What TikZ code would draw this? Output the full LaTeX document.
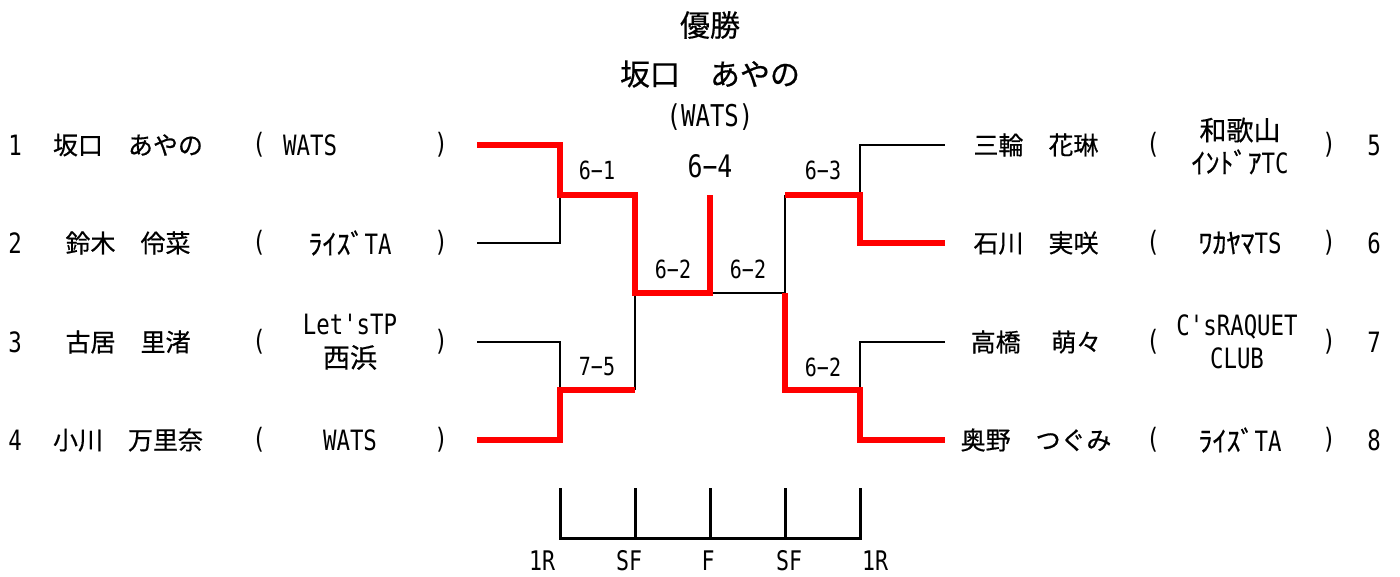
\documentclass[tikz,border=0pt]{standalone}
\usepackage{fontspec}
\newfontfamily\jp[FakeBold=0.5]{Noto Sans CJK JP}
\newfontfamily\mono[FakeStretch=0.8]{DejaVu Sans Mono}
\definecolor{winred}{RGB}{255,0,0}
\tikzset{
  blk/.style={draw=black,line width=2.6pt},
  rd/.style={draw=winred,line width=6pt,line join=miter},
  nm/.style={inner sep=0pt,font=\jp\fontsize{25}{30}\selectfont},
  num/.style={inner sep=0pt,font=\mono\fontsize{28}{33}\selectfont},
  tm/.style={inner sep=0pt,align=center,font=\mono\fontsize{28}{33}\selectfont},
  pr/.style={inner sep=0pt,font=\mono\fontsize{28}{33}\selectfont},
  sc/.style={inner sep=0pt,font=\mono\fontsize{25}{30}\selectfont},
  bigsc/.style={inner sep=0pt,font=\mono\fontsize{31}{36}\selectfont},
  ttl/.style={inner sep=0pt,font=\jp\fontsize{30}{34}\selectfont},
  ttlteam/.style={inner sep=0pt,font=\mono\fontsize{30}{34}\selectfont},
  rnd/.style={inner sep=0pt,font=\mono\fontsize{27}{32}\selectfont},
}
\newcommand\kj[1]{{\jp\fontsize{27}{33}\selectfont #1}}
\newcommand\hk[1]{{\jp #1}}
\begin{document}
\begin{tikzpicture}[x=1pt,y=-1pt]
\useasboundingbox (0,0) rectangle (1400,576);
% ---- bracket coordinates
\coordinate (L1) at (477,145);
\coordinate (L2) at (477,243);
\coordinate (L3) at (477,342);
\coordinate (L4) at (477,440);
\coordinate (R5) at (945,145);
\coordinate (R6) at (945,243);
\coordinate (R7) at (945,342);
\coordinate (R8) at (945,440);
\coordinate (a1) at (560,145);
\coordinate (a2) at (560,243);
\coordinate (a12) at (560,195);
\coordinate (a3) at (560,342);
\coordinate (a4) at (560,440);
\coordinate (a34) at (560,390);
\coordinate (b12) at (635,195);
\coordinate (b34) at (635,390);
\coordinate (bL) at (635,293);
\coordinate (fL) at (710,293);
\coordinate (fT) at (710,195);
\coordinate (cR) at (785,293);
\coordinate (c56) at (785,195);
\coordinate (c78) at (785,390);
\coordinate (d56) at (860,195);
\coordinate (d5) at (860,145);
\coordinate (d6) at (860,243);
\coordinate (d78) at (860,390);
\coordinate (d7) at (860,342);
\coordinate (d8) at (860,440);
% ---- black lines
\draw[blk] (L2) -- (a2) -- (a12);
\draw[blk] (L3) -- (a3) -- (a34);
\draw[blk] (b34) -- (bL);
\draw[blk] (fL) -- (cR) -- (c56);
\draw[blk] (d56) -- (d5) -- (R5);
\draw[blk] (R7) -- (d7) -- (d78);
% ---- red lines
\draw[rd] (L1) -- (a1) -- (a12) -- (b12) -- (bL) -- (fL) -- (fT);
\draw[rd] (L4) -- (a4) -- (a34) -- (b34);
\draw[rd] (c56) -- (d56) -- (d6) -- (R6);
\draw[rd] (cR) -- (c78) -- (d78) -- (d8) -- (R8);
% ---- scores
\node[sc] (s61) at (597,170) {6−1};
\node[bigsc] (s64) at (710,166) {6−4};
\node[sc] (s63) at (823,170) {6−3};
\node[sc] (s62a) at (673,269) {6−2};
\node[sc] (s62b) at (748,269) {6−2};
\node[sc] (s75) at (597,367) {7−5};
\node[sc] (s62c) at (823,367) {6−2};
% ---- title
\node[ttl] (yusho) at (710,25) {優勝};
\node[ttl] (champ) at (710,74) {坂口　あやの};
\node[ttlteam] (champteam) at (710,117) {(WATS)};
% ---- left players
\node[num] (n1) at (15,145) {1};
\node[num] (n2) at (15,243) {2};
\node[num] (n3) at (15,342) {3};
\node[num] (n4) at (15,440) {4};
\node[nm] (p1) at (128,145) {坂口　あやの};
\node[nm] (p2) at (128,243) {鈴木　伶菜};
\node[nm] (p3) at (128,342) {古居　里渚};
\node[nm] (p4) at (128,440) {小川　万里奈};
\foreach \y/\i in {145/1,243/2,342/3,440/4}{
  \node[pr] (lo\i) at (259,\y) {(};
  \node[pr] (lc\i) at (441,\y) {)};
}
\node[tm,anchor=west] (t1) at (283,145) {WATS};
\node[tm] (t2) at (350,243) {\hk{ﾗｲｽﾞ}TA};
\node[tm] (t3) at (350,342) {Let'sTP\\\kj{西浜}};
\node[tm] (t4) at (350,440) {WATS};
% ---- right players
\node[nm] (p5) at (1036,145) {三輪　花琳};
\node[nm] (p6) at (1036,243) {石川　実咲};
\node[nm] (p7) at (1036,342) {高橋　 萌々};
\node[nm] (p8) at (1036,440) {奥野　つぐみ};
\foreach \y/\i in {145/5,243/6,342/7,440/8}{
  \node[pr] (ro\i) at (1153,\y) {(};
  \node[pr] (rc\i) at (1329,\y) {)};
  \node[num] (n\i) at (1374,\y) {\i};
}
\node[tm] (t5) at (1240,146) {\kj{和歌山}\\\hk{ｲﾝﾄﾞｱ}TC};
\node[tm] (t6) at (1240,243) {\hk{ﾜｶﾔﾏ}TS};
\node[tm] (t7) at (1237,342) {C'sRAQUET\\CLUB};
\node[tm] (t8) at (1240,440) {\hk{ﾗｲｽﾞ}TA};
% ---- round scale
\coordinate (k1) at (560,488);
\coordinate (k2) at (635,488);
\coordinate (k3) at (710,488);
\coordinate (k4) at (785,488);
\coordinate (k5) at (860,488);
\coordinate (m1) at (560,538);
\coordinate (m2) at (635,538);
\coordinate (m3) at (710,538);
\coordinate (m4) at (785,538);
\coordinate (m5) at (860,538);
\draw[blk,line width=3pt] (k1) -- (m1) -- (m5) -- (k5);
\draw[blk,line width=3pt] (k2) -- (m2);
\draw[blk,line width=3pt] (k3) -- (m3);
\draw[blk,line width=3pt] (k4) -- (m4);
\node[rnd] (r1) at (542,561) {1R};
\node[rnd] (r2) at (629,561) {SF};
\node[rnd] (r3) at (708,561) {F};
\node[rnd] (r4) at (789,561) {SF};
\node[rnd] (r5) at (875,561) {1R};
\end{tikzpicture}
\end{document}
